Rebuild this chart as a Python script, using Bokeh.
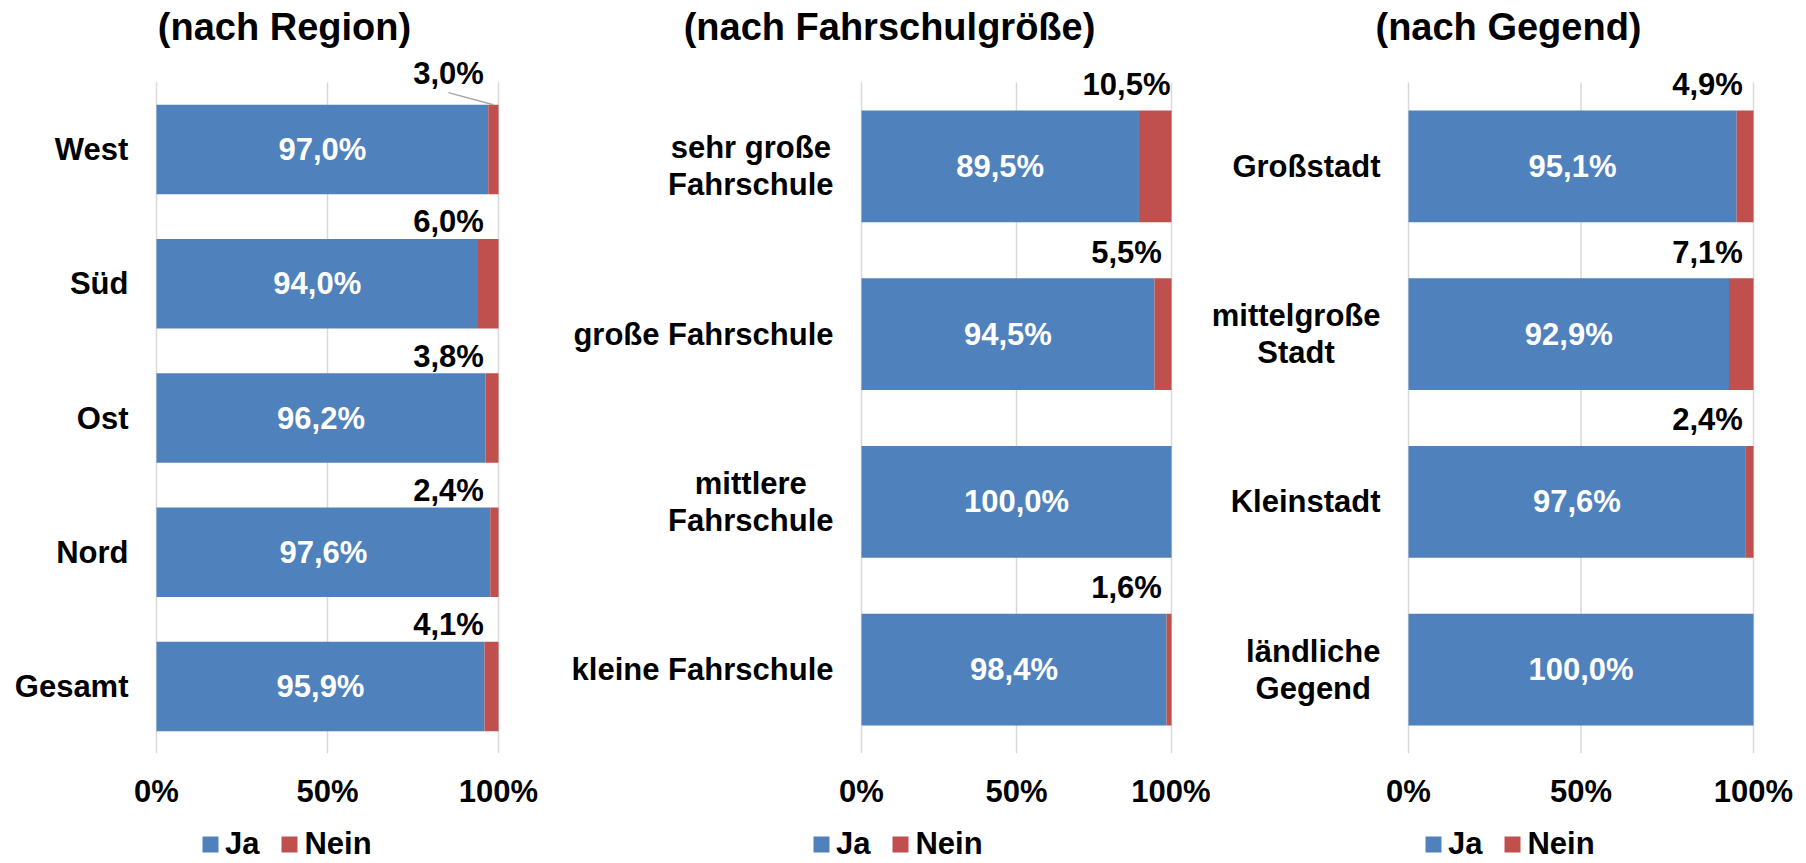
from bokeh.plotting import figure
from bokeh.layouts import row, column
from bokeh.models import (ColumnDataSource, Range1d, FixedTicker, LabelSet,
                          Legend, LegendItem)
from bokeh.core.properties import value
from bokeh.embed import file_html
from bokeh.resources import INLINE

# ---------------- data ----------------
titles = ["(nach Region)", "(nach Fahrschulgröße)", "(nach Gegend)"]

region_cats = ["West", "Süd", "Ost", "Nord", "Gesamt"]
region_ja = [97.0, 94.0, 96.2, 97.6, 95.9]
region_nein = [3.0, 6.0, 3.8, 2.4, 4.1]

size_cats = ["sehr große\nFahrschule", "große Fahrschule", "mittlere\nFahrschule", "kleine Fahrschule"]
size_ja = [89.5, 94.5, 100.0, 98.4]
size_nein = [10.5, 5.5, 0.0, 1.6]

area_cats = ["Großstadt", "mittelgroße\nStadt", "Kleinstadt", "ländliche\nGegend"]
area_ja = [95.1, 92.9, 97.6, 100.0]
area_nein = [4.9, 7.1, 2.4, 0.0]

x_ticks = [0, 50, 100]
x_tick_labels = ["0%", "50%", "100%"]
series_names = ["Ja", "Nein"]

# ---------------- style / layout ----------------
BLUE = "#4F81BD"
RED = "#C0504D"
GRID = "#D9D9D9"
LEADER = "#A6A6A6"
FONT = "Liberation Sans"
FS = 31
TITLE_FS = 38
TOTAL_H = 863
LEG_H = 38          # height of the legend strip under each panel
H = TOTAL_H - LEG_H
FRAME_TOP = 50      # title panel height (px)
GRID_TOP = 82
GRID_BOTTOM = 753   # frame bottom
BAR_H = 0.667
LABEL_GAP = 28
LINE_H = 1.06

# Arial/Liberation Sans Bold advance widths (1/1000 em) for centring label lines
CW = {' ': 278, 'A': 722, 'B': 722, 'C': 722, 'D': 722, 'E': 667, 'F': 611, 'G': 778,
      'H': 722, 'I': 278, 'J': 556, 'K': 722, 'L': 611, 'M': 833, 'N': 722, 'O': 778,
      'P': 667, 'Q': 778, 'R': 722, 'S': 667, 'T': 611, 'U': 722, 'V': 667, 'W': 944,
      'X': 667, 'Y': 667, 'Z': 611, 'a': 556, 'b': 611, 'c': 556, 'd': 611, 'e': 556,
      'f': 333, 'g': 611, 'h': 611, 'i': 278, 'j': 278, 'k': 556, 'l': 278, 'm': 889,
      'n': 611, 'o': 611, 'p': 611, 'q': 611, 'r': 389, 's': 556, 't': 333, 'u': 611,
      'v': 556, 'w': 778, 'x': 556, 'y': 556, 'z': 500, 'ä': 556, 'ö': 611, 'ü': 611,
      'ß': 611}


def text_width(s, fs=FS):
    return max(sum(CW.get(c, 556) for c in line) for line in s.split("\n")) / 1000.0 * fs


def pct(v):
    return f"{v:.1f}".replace(".", ",") + "%"


panels = [
    dict(title=titles[0], cats=region_cats, ja=region_ja, nein=region_nein,
         left=0, width=568, g0=156, g1=498, nein_dx=-50, nein_dy=62, legend_x=200),
    dict(title=titles[1], cats=size_cats, ja=size_ja, nein=size_nein,
         left=568, width=642, g0=861, g1=1171, nein_dx=-45, nein_dy=82, legend_x=243),
    dict(title=titles[2], cats=area_cats, ja=area_ja, nein=area_nein,
         left=1210, width=596, g0=1408, g1=1753, nein_dx=-46, nein_dy=82, legend_x=213),
]

WEST_EXTRA_LIFT = 14   # first label of panel 1 was moved up (with leader line)


def make_panel(k, pn):
    cats, ja, nein = pn["cats"], pn["ja"], pn["nein"]
    n = len(cats)
    s = (pn["g1"] - pn["g0"]) / 100.0
    xr = Range1d((pn["left"] - pn["g0"]) / s, (pn["left"] + pn["width"] - pn["g0"]) / s)
    unit = (GRID_BOTTOM - GRID_TOP) / n
    extra = (GRID_TOP - FRAME_TOP) / unit
    yr = Range1d(n - 0.5, -0.5 - extra)

    p = figure(width=pn["width"], height=H, x_range=xr, y_range=yr,
               output_backend="svg", toolbar_location=None, y_axis_location=None,
               min_border=0, min_border_top=FRAME_TOP, min_border_bottom=H - GRID_BOTTOM,
               outline_line_color=None, title=pn["title"])
    p.grid.visible = False
    p.background_fill_color = "white"
    p.border_fill_color = "white"

    p.title.text_font = FONT
    p.title.text_font_size = f"{TITLE_FS}px"
    p.title.text_font_style = "bold"
    p.title.text_color = "black"
    p.title.align = "center"
    p.title.standoff = 5

    ax = p.xaxis[0]
    ax.ticker = FixedTicker(ticks=x_ticks)
    ax.major_label_overrides = {t: l for t, l in zip(x_ticks, x_tick_labels)}
    ax.axis_line_color = None
    ax.major_tick_line_color = None
    ax.minor_tick_line_color = None
    ax.major_label_text_font = FONT
    ax.major_label_text_font_size = f"{FS}px"
    ax.major_label_text_font_style = "bold"
    ax.major_label_text_color = "black"
    ax.major_label_standoff = 14

    # vertical gridlines over the category area
    p.segment(x0=x_ticks, y0=[-0.5] * len(x_ticks), x1=x_ticks, y1=[n - 0.5] * len(x_ticks),
              line_color=GRID, line_width=1.5)

    idx = list(range(n))
    src = ColumnDataSource(dict(idx=idx, ja=ja, nein=nein))
    p.hbar_stack(["ja", "nein"], y="idx", height=BAR_H, fill_color=[BLUE, RED],
                 line_color=None, source=src)

    # white values inside the Ja bars
    vsrc = ColumnDataSource(dict(idx=idx, xc=[v / 2 for v in ja], lab=[pct(v) for v in ja]))
    p.text(x="xc", y="idx", text="lab", source=vsrc, text_color="white",
           text_align="center", text_baseline="middle", text_font=value(FONT),
           text_font_style="bold", text_font_size=value(f"{FS}px"))

    # category labels (centered lines, right edge LABEL_GAP left of 0%)
    csrc = ColumnDataSource(dict(idx=idx, x=[0] * n, cat=cats,
                                 dx=[-(LABEL_GAP + text_width(c) / 2) for c in cats]))
    p.text(x="x", y="idx", text="cat", x_offset="dx", source=csrc, text_color="black",
           text_align="center", text_baseline="middle", text_font=value(FONT),
           text_font_style="bold", text_font_size=value(f"{FS}px"), text_line_height=LINE_H)

    # Nein labels above the bars
    ni = [i for i in idx if nein[i] > 0]
    lifts = [pn["nein_dy"] + (WEST_EXTRA_LIFT if (k == 0 and i == 0) else 0) for i in ni]
    nsrc = ColumnDataSource(dict(idx=ni, x=[100] * len(ni), lab=[pct(nein[i]) for i in ni],
                                 dy=lifts))
    ls = LabelSet(x="x", y="idx", text="lab", x_offset=pn["nein_dx"], y_offset="dy",
                  source=nsrc, text_align="center", text_baseline="middle",
                  text_font=value(FONT), text_font_style="bold",
                  text_font_size=value(f"{FS}px"), text_color="black")
    p.add_layout(ls)

    if k == 0:
        # leader line from the moved label to the red segment
        lx = 100 + pn["nein_dx"] / s
        ly = -(pn["nein_dy"] + WEST_EXTRA_LIFT - 19) / unit
        p.segment(x0=[lx], y0=[ly], x1=[ja[0] + nein[0] / 2], y1=[-BAR_H / 2],
                  line_color=LEADER, line_width=1.5)

    # legend strip below the panel (proxy bars sit outside its visible range)
    lf = figure(width=pn["width"], height=LEG_H, x_range=Range1d(0, 1), y_range=Range1d(0, 1),
                output_backend="svg", toolbar_location=None, x_axis_location=None,
                y_axis_location=None, min_border=0, outline_line_color=None)
    lf.grid.visible = False
    lf.background_fill_color = "white"
    lf.border_fill_color = "white"
    r_ja = lf.hbar(y=[-10], left=[0], right=[1], height=1, fill_color=BLUE, line_color=None)
    r_nein = lf.hbar(y=[-10], left=[0], right=[1], height=1, fill_color=RED, line_color=None)
    legend = Legend(items=[LegendItem(label=series_names[0], renderers=[r_ja]),
                           LegendItem(label=series_names[1], renderers=[r_nein])],
                    orientation="horizontal", location="center_left",
                    glyph_width=20, glyph_height=20, label_standoff=5, spacing=20,
                    label_text_font=FONT, label_text_font_size=f"{FS}px",
                    label_text_font_style="bold", label_text_color="black",
                    border_line_color=None, background_fill_alpha=0,
                    margin=pn["legend_x"], padding=0)
    lf.add_layout(legend)
    return column(p, lf, spacing=0)


cols = [make_panel(k, pn) for k, pn in enumerate(panels)]
layout = row(*cols, spacing=0)

open("out.html", "w").write(file_html(layout, INLINE, title="Fahrschulen"))
